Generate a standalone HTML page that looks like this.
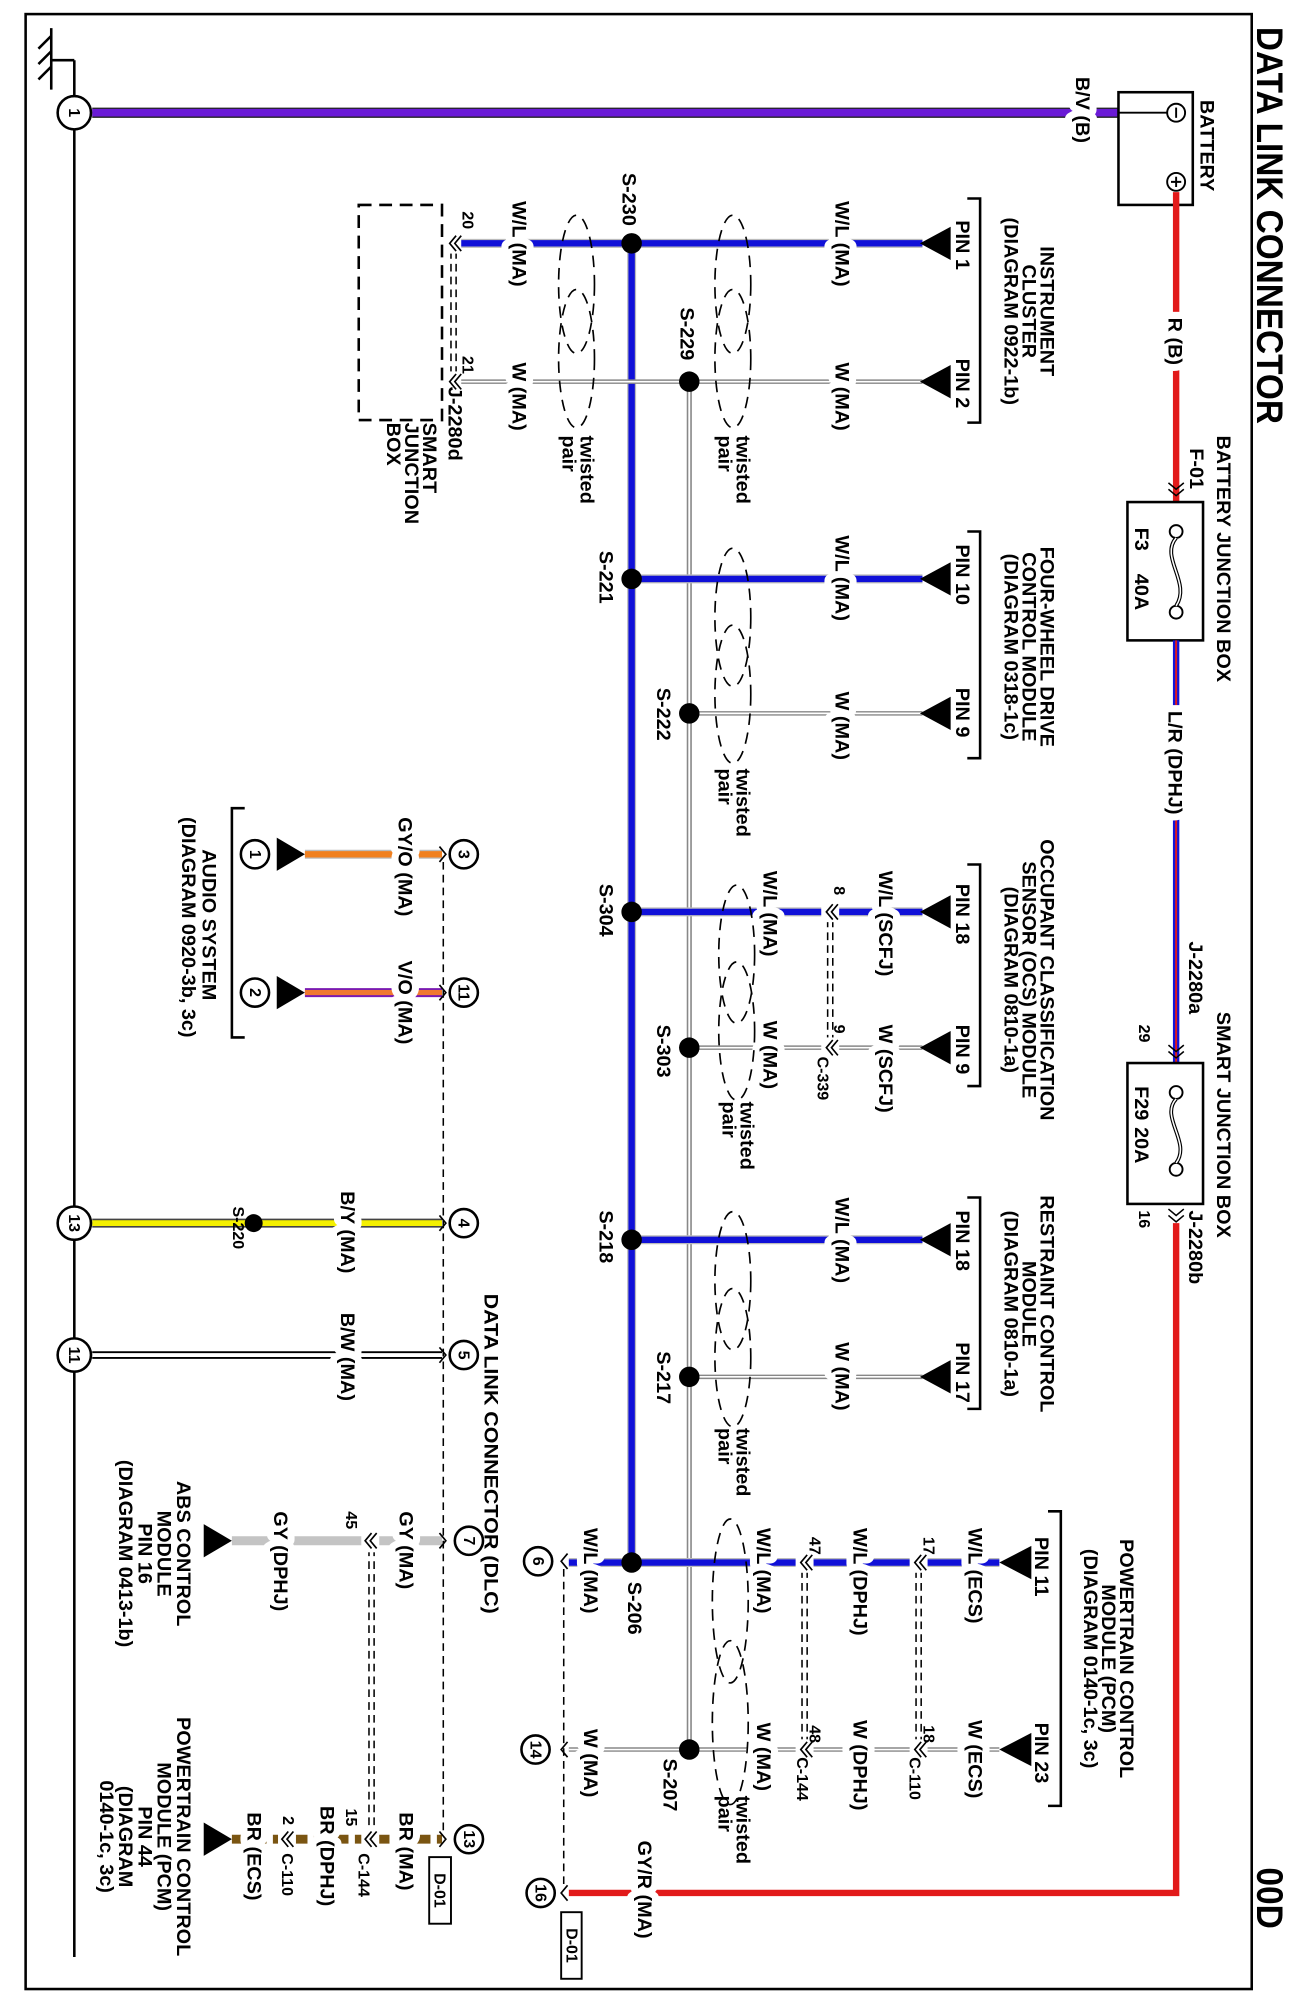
<!DOCTYPE html>
<html><head><meta charset="utf-8"><style>
html,body{margin:0;padding:0;background:#fff}
svg{display:block}
text{font-family:"Liberation Sans",Arial,sans-serif;font-weight:bold;font-size:15.5px;fill:#000}
.h{paint-order:stroke;stroke:#fff;stroke-width:11px;stroke-linejoin:round}
.s{font-size:12.5px}
.m{text-anchor:middle}
</style></head><body>
<svg width="1294" height="1998" viewBox="0 0 1010 1560" preserveAspectRatio="none" xmlns="http://www.w3.org/2000/svg">
<rect x="0" y="0" width="1010" height="1560" fill="#fff"/>
<rect x="20" y="11" width="957" height="1542" fill="none" stroke="#000" stroke-width="2"/>
<text transform="translate(981 21) rotate(90)" style="font-size:29px" textLength="310" lengthAdjust="spacingAndGlyphs">DATA LINK CONNECTOR</text>
<text transform="translate(981 1458) rotate(90)" style="font-size:29px" textLength="48" lengthAdjust="spacingAndGlyphs">00D</text>

<path d="M58 47 V1528" stroke="#000" stroke-width="2" fill="none"/>
<path d="M40 47 H58 M40 22 V70 M40 28 L30 38 M40 40 L30 50 M40 52 L30 62" stroke="#000" stroke-width="2" fill="none"/>

<path d="M72 88 H873" stroke="#222" stroke-width="8" fill="none"/>
<path d="M72 88 H873" stroke="#6a1ad6" stroke-width="6" fill="none"/>
<text class="h" transform="translate(840 60) rotate(90)">B/V (B)</text>
<rect x="873" y="72" width="58" height="88" fill="#fff" stroke="#000" stroke-width="2"/>
<path d="M873 88 H911" stroke="#000" stroke-width="1.5"/>
<circle cx="918" cy="88" r="7" fill="#fff" stroke="#000" stroke-width="1.5"/>
<path d="M918 84 V92" stroke="#000" stroke-width="1.5"/>
<circle cx="918" cy="142" r="7" fill="#fff" stroke="#000" stroke-width="1.5"/>
<path d="M918 138 V146 M914 142 H922" stroke="#000" stroke-width="1.5"/>
<text transform="translate(937 78) rotate(90)">BATTERY</text>

<path d="M918 150 V392" stroke="#e21a1a" stroke-width="5" fill="none"/>
<text class="h" transform="translate(912 248) rotate(90)">R (B)</text>
<text transform="translate(929 350) rotate(90)">F-01</text>
<path d="M912 377 L918 382 L924 377 M912 382 L918 387 L924 382" stroke="#000" stroke-width="1.2" fill="none"/>
<rect x="880" y="392" width="59" height="108" fill="#fff" stroke="#000" stroke-width="2"/>
<circle cx="918" cy="415" r="5" fill="#fff" stroke="#000" stroke-width="1.5"/>
<circle cx="918" cy="478" r="5" fill="#fff" stroke="#000" stroke-width="1.5"/>
<path d="M918 420 C905 435 930 455 918 473" stroke="#000" stroke-width="3" fill="none"/>
<path d="M918 420 C905 435 930 455 918 473" stroke="#fff" stroke-width="1.2" fill="none"/>
<text transform="translate(886 412) rotate(90)">F3</text>
<text transform="translate(886 448) rotate(90)">40A</text>
<text transform="translate(950 340) rotate(90)">BATTERY JUNCTION BOX</text>
<path d="M918 500 V830" stroke="#1414d8" stroke-width="5" fill="none"/>
<path d="M918 500 V830" stroke="#e21a1a" stroke-width="1.5" fill="none"/>
<text class="h" transform="translate(912 555) rotate(90)">L/R (DPHJ)</text>
<text transform="translate(928 735) rotate(90)">J-2280a</text>
<text class="s" transform="translate(889 800) rotate(90)">29</text>
<path d="M912 816 L918 821 L924 816 M912 821 L918 826 L924 821" stroke="#000" stroke-width="1.2" fill="none"/>
<rect x="880" y="830" width="59" height="110" fill="#fff" stroke="#000" stroke-width="2"/>
<circle cx="918" cy="853" r="5" fill="#fff" stroke="#000" stroke-width="1.5"/>
<circle cx="918" cy="913" r="5" fill="#fff" stroke="#000" stroke-width="1.5"/>
<path d="M918 858 C905 872 930 892 918 908" stroke="#000" stroke-width="3" fill="none"/>
<path d="M918 858 C905 872 930 892 918 908" stroke="#fff" stroke-width="1.2" fill="none"/>
<text transform="translate(886 848) rotate(90)">F29</text>
<text transform="translate(886 880) rotate(90)">20A</text>
<text transform="translate(950 790) rotate(90)">SMART JUNCTION BOX</text>
<text transform="translate(928 945) rotate(90)">J-2280b</text>
<text class="s" transform="translate(889 945) rotate(90)">16</text>
<path d="M912 944 L918 949 L924 944 M912 949 L918 954 L924 949" stroke="#000" stroke-width="1.2" fill="none"/>
<path d="M918 955 V1478 H444" stroke="#e21a1a" stroke-width="5" fill="none"/>
<text class="h" transform="translate(498 1437) rotate(90)">GY/R (MA)</text>

<path d="M538 298 V1366" stroke="#888" stroke-width="4" fill="none"/>
<path d="M538 298 V1366" stroke="#fff" stroke-width="1.5" fill="none"/>
<g fill="none">
<path d="M348 190 H720 M493 452 H720 M493 712 H720 M493 968 H720 M444 1220 H780" stroke="#bbb" stroke-width="7"/>
<path d="M493 190 V1220" stroke="#bbb" stroke-width="7"/>
<path d="M348 190 H720 M493 452 H720 M493 712 H720 M493 968 H720 M444 1220 H780 M493 190 V1220" stroke="#1010d8" stroke-width="5"/>
<path d="M348 298 H720 M538 557 H720 M538 818 H720 M538 1075 H720 M444 1366 H780" stroke="#888" stroke-width="3.5"/>
<path d="M348 298 H720 M538 557 H720 M538 818 H720 M538 1075 H720 M444 1366 H780" stroke="#fff" stroke-width="1.3"/>
</g>

<g fill="#000">
<path d="M718 190 L742 177 L742 203Z"/><path d="M718 298 L742 285 L742 311Z"/>
<path d="M718 452 L742 439 L742 465Z"/><path d="M718 557 L742 544 L742 570Z"/>
<path d="M718 712 L742 699 L742 725Z"/><path d="M718 818 L742 805 L742 831Z"/>
<path d="M718 968 L742 955 L742 981Z"/><path d="M718 1075 L742 1062 L742 1088Z"/>
<path d="M780 1220 L805 1207 L805 1233Z"/><path d="M780 1366 L805 1353 L805 1379Z"/>
</g>
<path d="M755 155 H765 V330 H755 M755 415 H765 V592 H755 M755 675 H765 V848 H755 M755 935 H765 V1100 H755 M818 1180 H828 V1410 H818 M191 631 H181 V810 H191" stroke="#000" stroke-width="2" fill="none"/>

<text class="m" transform="translate(812 243) rotate(90)">INSTRUMENT</text>
<text class="m" transform="translate(798 243) rotate(90)">CLUSTER</text>
<text class="m" transform="translate(784 243) rotate(90)">(DIAGRAM 0922-1b)</text>
<text class="m" transform="translate(812 505) rotate(90)">FOUR-WHEEL DRIVE</text>
<text class="m" transform="translate(798 505) rotate(90)">CONTROL MODULE</text>
<text class="m" transform="translate(784 505) rotate(90)">(DIAGRAM 0318-1c)</text>
<text class="m" transform="translate(812 765) rotate(90)">OCCUPANT CLASSIFICATION</text>
<text class="m" transform="translate(798 765) rotate(90)">SENSOR (OCS) MODULE</text>
<text class="m" transform="translate(784 765) rotate(90)">(DIAGRAM 0810-1a)</text>
<text class="m" transform="translate(812 1018) rotate(90)">RESTRAINT CONTROL</text>
<text class="m" transform="translate(798 1018) rotate(90)">MODULE</text>
<text class="m" transform="translate(784 1018) rotate(90)">(DIAGRAM 0810-1a)</text>
<text class="m" transform="translate(874 1295) rotate(90)">POWERTRAIN CONTROL</text>
<text class="m" transform="translate(860 1295) rotate(90)">MODULE (PCM)</text>
<text class="m" transform="translate(846 1295) rotate(90)">(DIAGRAM 0140-1c, 3c)</text>

<text transform="translate(746 172) rotate(90)">PIN 1</text>
<text transform="translate(746 280) rotate(90)">PIN 2</text>
<text transform="translate(746 425) rotate(90)">PIN 10</text>
<text transform="translate(746 537) rotate(90)">PIN 9</text>
<text transform="translate(746 690) rotate(90)">PIN 18</text>
<text transform="translate(746 800) rotate(90)">PIN 9</text>
<text transform="translate(746 945) rotate(90)">PIN 18</text>
<text transform="translate(746 1048) rotate(90)">PIN 17</text>
<text transform="translate(808 1200) rotate(90)">PIN 11</text>
<text transform="translate(808 1345) rotate(90)">PIN 23</text>

<text class="h" transform="translate(652 157) rotate(90)">W/L (MA)</text>
<text class="h" transform="translate(652 283) rotate(90)">W (MA)</text>
<text class="h" transform="translate(400 157) rotate(90)">W/L (MA)</text>
<text class="h" transform="translate(400 283) rotate(90)">W (MA)</text>
<text class="h" transform="translate(652 418) rotate(90)">W/L (MA)</text>
<text class="h" transform="translate(652 540) rotate(90)">W (MA)</text>
<text class="h" transform="translate(686 680) rotate(90)">W/L (SCFJ)</text>
<text class="h" transform="translate(686 800) rotate(90)">W (SCFJ)</text>
<text class="h" transform="translate(596 680) rotate(90)">W/L (MA)</text>
<text class="h" transform="translate(596 797) rotate(90)">W (MA)</text>
<text class="h" transform="translate(652 935) rotate(90)">W/L (MA)</text>
<text class="h" transform="translate(652 1048) rotate(90)">W (MA)</text>
<text class="h" transform="translate(756 1193) rotate(90)">W/L (ECS)</text>
<text class="h" transform="translate(756 1343) rotate(90)">W (ECS)</text>
<text class="h" transform="translate(666 1193) rotate(90)">W/L (DPHJ)</text>
<text class="h" transform="translate(666 1343) rotate(90)">W (DPHJ)</text>
<text class="h" transform="translate(591 1193) rotate(90)">W/L (MA)</text>
<text class="h" transform="translate(591 1345) rotate(90)">W (MA)</text>
<text class="h" transform="translate(456 1193) rotate(90)">W/L (MA)</text>
<text class="h" transform="translate(456 1350) rotate(90)">W (MA)</text>

<g stroke="#000" stroke-width="1.2" fill="none">
<path d="M352 196 V292 M356 196 V292 M646 718 V812 M650 718 V812 M715 1226 V1360 M719 1226 V1360 M626 1226 V1360 M630 1226 V1360 M288 1209 V1430 M292 1209 V1430 M346 673 V1430 M440 1225 V1472" stroke-dasharray="6 4"/>
</g>
<g fill="#fff"><rect x="346" y="182" width="14" height="16"/><rect x="346" y="290" width="14" height="16"/><rect x="641" y="704" width="14" height="16"/><rect x="641" y="810" width="14" height="16"/><rect x="710" y="1212" width="14" height="16"/><rect x="710" y="1358" width="14" height="16"/><rect x="621" y="1212" width="14" height="16"/><rect x="621" y="1358" width="14" height="16"/></g>
<g stroke="#000" stroke-width="1.3" fill="none">
<path d="M356 184 L351 190 L356 196 M360 184 L355 190 L360 196 M356 292 L351 298 L356 304 M360 292 L355 298 L360 304"/>
<path d="M650 706 L645 712 L650 718 M654 706 L649 712 L654 718 M650 812 L645 818 L650 824 M654 812 L649 818 L654 824"/>
<path d="M719 1214 L714 1220 L719 1226 M723 1214 L718 1220 L723 1226 M719 1360 L714 1366 L719 1372 M723 1360 L718 1366 L723 1372"/>
<path d="M630 1214 L625 1220 L630 1226 M634 1214 L629 1220 L634 1226 M630 1360 L625 1366 L630 1372 M634 1360 L629 1366 L634 1372"/>
</g>
<text class="s" transform="translate(361 165) rotate(90)">20</text>
<text class="s" transform="translate(361 278) rotate(90)">21</text>
<text transform="translate(350 302) rotate(90)">J-2280d</text>
<rect x="280" y="160" width="65" height="168" fill="none" stroke="#000" stroke-width="2" stroke-dasharray="10 6"/>
<text transform="translate(330 330) rotate(90)">SMART</text>
<text transform="translate(316 330) rotate(90)">JUNCTION</text>
<text transform="translate(302 330) rotate(90)">BOX</text>
<text class="s" transform="translate(651 692) rotate(90)">8</text>
<text class="s" transform="translate(651 800) rotate(90)">9</text>
<text class="s" transform="translate(638 825) rotate(90)">C-339</text>
<text class="s" transform="translate(721 1200) rotate(90)">17</text>
<text class="s" transform="translate(721 1347) rotate(90)">18</text>
<text class="s" transform="translate(710 1372) rotate(90)">C-110</text>
<text class="s" transform="translate(632 1200) rotate(90)">47</text>
<text class="s" transform="translate(632 1347) rotate(90)">48</text>
<text class="s" transform="translate(622 1372) rotate(90)">C-144</text>

<g fill="none" stroke="#000" stroke-width="1.3" stroke-dasharray="9 6">
<ellipse cx="572" cy="222" rx="14" ry="54"/><ellipse cx="572" cy="280" rx="14" ry="54"/>
<ellipse cx="450" cy="222" rx="14" ry="54"/><ellipse cx="450" cy="280" rx="14" ry="54"/>
<ellipse cx="572" cy="482" rx="14" ry="54"/><ellipse cx="572" cy="542" rx="14" ry="54"/>
<ellipse cx="575" cy="745" rx="14" ry="54"/><ellipse cx="575" cy="805" rx="14" ry="54"/>
<ellipse cx="572" cy="1000" rx="14" ry="54"/><ellipse cx="572" cy="1060" rx="14" ry="54"/>
<ellipse cx="570" cy="1250" rx="14" ry="64"/><ellipse cx="570" cy="1345" rx="14" ry="64"/>
</g>
<text transform="translate(575 340) rotate(90)">twisted</text><text transform="translate(561 340) rotate(90)">pair</text>
<text transform="translate(453 340) rotate(90)">twisted</text><text transform="translate(439 340) rotate(90)">pair</text>
<text transform="translate(575 600) rotate(90)">twisted</text><text transform="translate(561 600) rotate(90)">pair</text>
<text transform="translate(578 860) rotate(90)">twisted</text><text transform="translate(564 860) rotate(90)">pair</text>
<text transform="translate(575 1115) rotate(90)">twisted</text><text transform="translate(561 1115) rotate(90)">pair</text>
<text transform="translate(575 1402) rotate(90)">twisted</text><text transform="translate(561 1402) rotate(90)">pair</text>

<g fill="#000">
<circle cx="493" cy="190" r="8"/><circle cx="538" cy="298" r="8"/>
<circle cx="493" cy="452" r="8"/><circle cx="538" cy="557" r="8"/>
<circle cx="493" cy="712" r="8"/><circle cx="538" cy="818" r="8"/>
<circle cx="493" cy="968" r="8"/><circle cx="538" cy="1075" r="8"/>
<circle cx="493" cy="1220" r="8"/><circle cx="538" cy="1366" r="8"/>
</g>
<text transform="translate(486 135) rotate(90)">S-230</text>
<text transform="translate(531 240) rotate(90)">S-229</text>
<text transform="translate(468 430) rotate(90)">S-221</text>
<text transform="translate(513 537) rotate(90)">S-222</text>
<text transform="translate(468 690) rotate(90)">S-304</text>
<text transform="translate(513 800) rotate(90)">S-303</text>
<text transform="translate(468 945) rotate(90)">S-218</text>
<text transform="translate(513 1055) rotate(90)">S-217</text>
<text transform="translate(490 1235) rotate(90)">S-206</text>
<text transform="translate(518 1373) rotate(90)">S-207</text>

<path d="M238 667 H345" stroke="#bbb" stroke-width="7" fill="none"/>
<path d="M238 667 H345" stroke="#f08020" stroke-width="5" fill="none"/>
<path d="M238 775 H345" stroke="#7a1ab0" stroke-width="7" fill="none"/>
<path d="M238 775 H345" stroke="#f07830" stroke-width="4" fill="none"/>
<path d="M72 955 H345" stroke="#444" stroke-width="7" fill="none"/>
<path d="M72 955 H345" stroke="#f4f000" stroke-width="4.5" fill="none"/>
<path d="M72 1058 H345" stroke="#000" stroke-width="6" fill="none"/>
<path d="M72 1058 H345" stroke="#fff" stroke-width="3" fill="none"/>
<path d="M181 1203 H345" stroke="#c4c4c4" stroke-width="7" fill="none"/>
<path d="M181 1436 H345" stroke="#7a5512" stroke-width="7" fill="none" stroke-dasharray="11 5"/>
<g fill="#fff"><rect x="282" y="1194" width="14" height="18"/><rect x="282" y="1427" width="14" height="18"/><rect x="217" y="1427" width="14" height="18"/></g>
<g stroke="#000" stroke-width="1.3" fill="none">
<path d="M290 1197 L285 1203 L290 1209 M294 1197 L289 1203 L294 1209 M290 1430 L285 1436 L290 1442 M294 1430 L289 1436 L294 1442 M225 1430 L220 1436 L225 1442 M229 1430 L224 1436 L229 1442"/>
<path d="M343 661 L348 667 L343 673 M343 769 L348 775 L343 781 M343 949 L348 955 L343 961 M343 1052 L348 1058 L343 1064 M343 1197 L348 1203 L343 1209 M343 1430 L348 1436 L343 1442"/>
<path d="M443 1213 L438 1219 L443 1225 M443 1360 L438 1366 L443 1372 M443 1472 L438 1478 L443 1484"/>
</g>
<g fill="#000">
<path d="M238 667 L216 654 L216 680Z"/><path d="M238 775 L216 762 L216 788Z"/>
<path d="M181 1203 L159 1190 L159 1216Z"/><path d="M181 1436 L159 1423 L159 1449Z"/>
</g>
<text class="h" transform="translate(311 638) rotate(90)">GY/O (MA)</text>
<text class="h" transform="translate(311 750) rotate(90)">V/O (MA)</text>
<text class="h" transform="translate(266 930) rotate(90)">B/Y (MA)</text>
<text class="h" transform="translate(266 1025) rotate(90)">B/W (MA)</text>
<circle cx="198" cy="955" r="7" fill="#000"/>
<text class="s" transform="translate(182 942) rotate(90)">S-220</text>
<text class="h" transform="translate(312 1180) rotate(90)">GY (MA)</text>
<text class="h" transform="translate(214 1180) rotate(90)">GY (DPHJ)</text>
<text class="s" transform="translate(270 1180) rotate(90)">45</text>
<text class="h" transform="translate(312 1415) rotate(90)">BR (MA)</text>
<text class="s" transform="translate(270 1412) rotate(90)">15</text>
<text class="s" transform="translate(280 1447) rotate(90)">C-144</text>
<text class="h" transform="translate(250 1410) rotate(90)">BR (DPHJ)</text>
<text class="s" transform="translate(221 1418) rotate(90)">2</text>
<text class="s" transform="translate(220 1447) rotate(90)">C-110</text>
<text class="h" transform="translate(193 1415) rotate(90)">BR (ECS)</text>
<text class="m" transform="translate(158 722) rotate(90)">AUDIO SYSTEM</text>
<text class="m" transform="translate(142 724) rotate(90)">(DIAGRAM 0920-3b, 3c)</text>
<text class="m" transform="translate(138 1213) rotate(90)">ABS CONTROL</text>
<text class="m" transform="translate(123 1213) rotate(90)">MODULE</text>
<text class="m" transform="translate(108 1213) rotate(90)">PIN 16</text>
<text class="m" transform="translate(93 1213) rotate(90)">(DIAGRAM 0413-1b)</text>
<text class="m" transform="translate(138 1434) rotate(90)">POWERTRAIN CONTROL</text>
<text class="m" transform="translate(123 1434) rotate(90)">MODULE (PCM)</text>
<text class="m" transform="translate(108 1434) rotate(90)">PIN 44</text>
<text class="m" transform="translate(93 1434) rotate(90)">(DIAGRAM</text>
<text class="m" transform="translate(78 1434) rotate(90)">0140-1c, 3c)</text>
<text transform="translate(378 1010) rotate(90)" textLength="250" lengthAdjust="spacingAndGlyphs">DATA LINK CONNECTOR (DLC)</text>
<rect x="335" y="1450" width="17" height="52" fill="#fff" stroke="#000" stroke-width="1.5"/>
<text class="s m" transform="translate(339 1476) rotate(90)">D-01</text>
<rect x="438" y="1493" width="16" height="52" fill="#fff" stroke="#000" stroke-width="1.5"/>
<text class="s m" transform="translate(442 1519) rotate(90)">D-01</text>

<g fill="#fff" stroke="#000" stroke-width="2">
<circle cx="58" cy="88" r="13"/><circle cx="58" cy="955" r="13"/><circle cx="58" cy="1058" r="13"/>
<circle cx="199" cy="667" r="11"/><circle cx="199" cy="775" r="11"/>
<circle cx="362" cy="667" r="11"/><circle cx="362" cy="775" r="11"/><circle cx="362" cy="955" r="11"/>
<circle cx="362" cy="1058" r="11"/><circle cx="366" cy="1203" r="11"/><circle cx="366" cy="1436" r="11"/>
<circle cx="420" cy="1219" r="11"/><circle cx="418" cy="1366" r="11"/><circle cx="422" cy="1478" r="11"/>
</g>
<text class="s m" transform="translate(54 88) rotate(90)">1</text>
<text class="s m" transform="translate(54 955) rotate(90)">13</text>
<text class="s m" transform="translate(54 1058) rotate(90)">11</text>
<text class="s m" transform="translate(195 667) rotate(90)">1</text>
<text class="s m" transform="translate(195 775) rotate(90)">2</text>
<text class="s m" transform="translate(358 667) rotate(90)">3</text>
<text class="s m" transform="translate(358 775) rotate(90)">11</text>
<text class="s m" transform="translate(358 955) rotate(90)">4</text>
<text class="s m" transform="translate(358 1058) rotate(90)">5</text>
<text class="s m" transform="translate(362 1203) rotate(90)">7</text>
<text class="s m" transform="translate(362 1436) rotate(90)">13</text>
<text class="s m" transform="translate(416 1219) rotate(90)">6</text>
<text class="s m" transform="translate(414 1366) rotate(90)">14</text>
<text class="s m" transform="translate(418 1478) rotate(90)">16</text>
</svg>
</body></html>
